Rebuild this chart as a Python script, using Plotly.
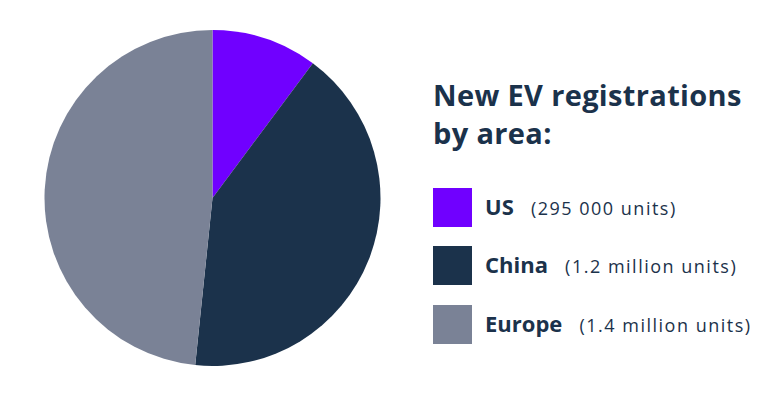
import plotly.graph_objects as go

regions = ["US", "China", "Europe"]
values = [295000, 1200000, 1400000]
value_labels = ["(295 000 units)", "(1.2 million units)", "(1.4 million units)"]
colors = ["#7000FF", "#1B324B", "#7A8296"]
title_text = "New EV registrations<br>by area:"

W, H = 783, 397
OFF = 8  # page body margin offset


def px(x):
    return (x - OFF) / W


def py(y):
    return 1 - (y - OFF) / H


fig = go.Figure()
fig.add_trace(go.Pie(
    labels=regions, values=values, sort=False, direction="clockwise", rotation=0,
    marker=dict(colors=colors, line=dict(width=0)),
    textinfo="none", showlegend=False,
    domain=dict(x=[px(44.5), px(380.5)], y=[py(366), py(30)]),
))

font = "Open Sans"
navy = "#1B324B"
annotations = [dict(
    x=px(431), y=py(113), xref="paper", yref="paper", xanchor="left", yanchor="middle",
    text="<b><span style='letter-spacing:0.35px'>" + title_text + "</span></b>",
    showarrow=False, align="left",
    font=dict(family=font, size=29, color=navy),
)]
shapes = []
square_tops = [188, 246, 305]
for i, (r, v, c) in enumerate(zip(regions, value_labels, colors)):
    t = square_tops[i]
    shapes.append(dict(type="rect", xref="paper", yref="paper",
                       x0=px(433), x1=px(472), y0=py(t + 39), y1=py(t),
                       fillcolor=c, line=dict(width=0)))
    annotations.append(dict(
        x=px(483), y=py(t + 18), xref="paper", yref="paper", xanchor="left", yanchor="middle",
        text=f"<b>{r}</b>\u00a0\u00a0\u00a0<span style='font-size:18px;letter-spacing:1.5px'>{v}</span>",
        showarrow=False,
        font=dict(family=font, size=22, color=navy),
    ))

fig.update_layout(width=W, height=H, margin=dict(l=0, r=0, t=0, b=0),
                  paper_bgcolor="white", plot_bgcolor="white",
                  annotations=annotations, shapes=shapes)
fig.write_html("out.html")
